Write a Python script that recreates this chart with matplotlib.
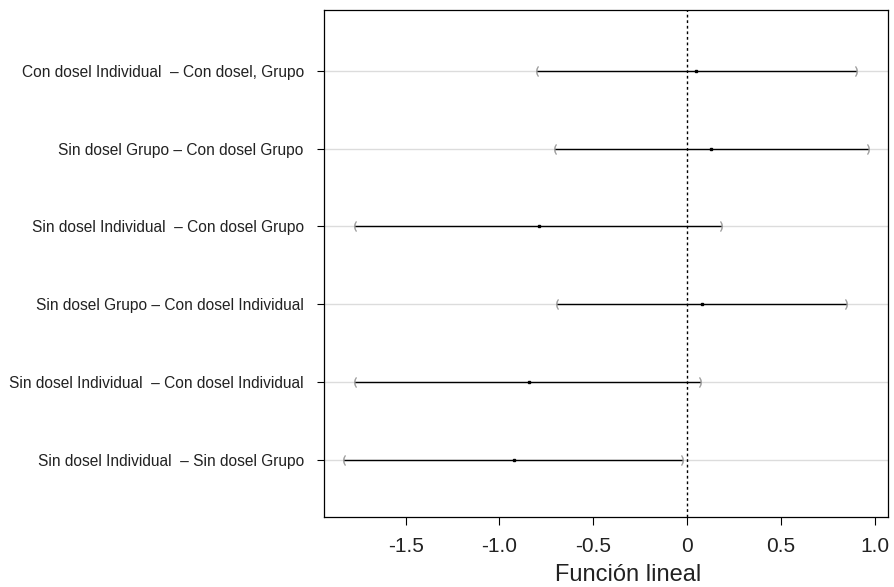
import matplotlib
matplotlib.use("Agg")
import matplotlib.pyplot as plt

# comparaciones (de arriba hacia abajo)
etiquetas = [
    "Con dosel Individual  – Con dosel, Grupo",
    "Sin dosel Grupo – Con dosel Grupo",
    "Sin dosel Individual  – Con dosel Grupo",
    "Sin dosel Grupo – Con dosel Individual",
    "Sin dosel Individual  – Con dosel Individual",
    "Sin dosel Individual  – Sin dosel Grupo",
]
estimado = [0.05, 0.128, -0.79, 0.079, -0.842, -0.92]
inferior = [-0.80, -0.706, -1.772, -0.693, -1.772, -1.83]
superior = [0.90, 0.964, 0.182, 0.849, 0.069, -0.026]

xticks = [-1.5, -1.0, -0.5, 0, 0.5, 1.0]
xticklabels = ["-1.5", "-1.0", "-0.5", "0", "0.5", "1.0"]

plt.rcParams['font.family'] = ['Liberation Sans', 'DejaVu Sans']

fig = plt.figure(figsize=(8.94, 5.87), dpi=100)
ax = fig.add_axes([0.3624, 0.1193, 0.6309, 0.8637])

n = len(etiquetas)
pos = list(range(n, 0, -1))

for y in pos:
    ax.axhline(y, color='#dcdcdc', linewidth=1, zorder=0)

ax.axvline(0, color='black', linestyle=(0, (2, 2)), linewidth=1, zorder=1)

for y, e, lo, hi in zip(pos, estimado, inferior, superior):
    ax.plot([lo, hi], [y, y], color='black', linewidth=1, zorder=2)
    ax.plot([lo], [y], marker='$($', color='#999999', markersize=7,
            markeredgewidth=0.3, zorder=3)
    ax.plot([hi], [y], marker='$)$', color='#999999', markersize=7,
            markeredgewidth=0.3, zorder=3)
    ax.plot([e], [y], marker='s', color='black', markersize=2, zorder=4)

ax.set_xlim(-1.935, 1.071)
ax.set_ylim(0.267, 6.78)
ax.set_yticks(pos)
ax.set_yticklabels(etiquetas, fontsize=11.2, color='#222222')
ax.set_xticks(xticks)
ax.set_xticklabels(xticklabels, fontsize=15, color='#222222')
ax.set_xlabel("Función lineal", fontsize=17, color='#222222', va='baseline')
ax.xaxis.set_label_coords(0.539, -0.1268)

ax.tick_params(axis='x', length=6, width=0.8, pad=8.5)
ax.tick_params(axis='y', length=5, width=0.8, pad=9.5)
for s in ax.spines.values():
    s.set_linewidth(0.9)

fig.savefig("out.png", dpi=100)
